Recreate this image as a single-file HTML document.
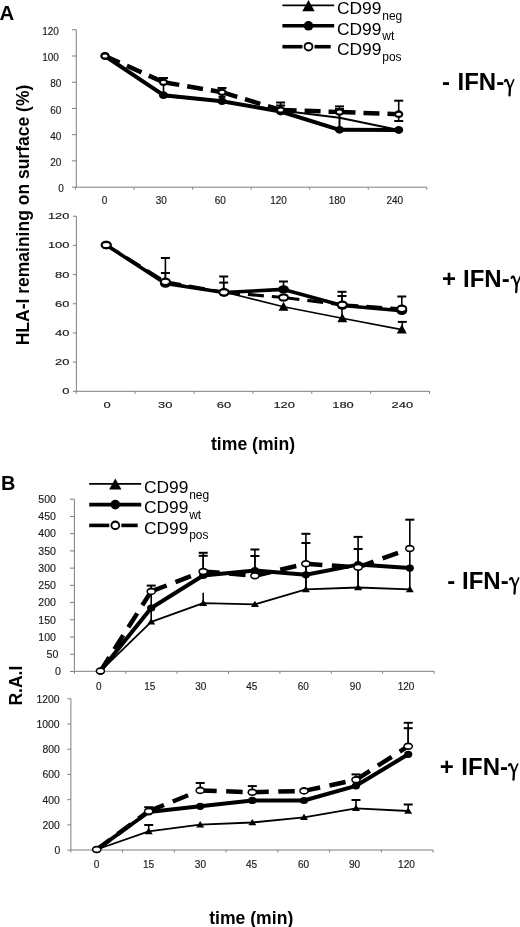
<!DOCTYPE html><html><head><meta charset="utf-8"><style>html,body{margin:0;padding:0;background:#fff;}svg{display:block;font-family:"Liberation Sans", sans-serif;filter:blur(0.35px);}</style></head><body>
<svg width="520" height="927" viewBox="0 0 520 927">
<rect width="520" height="927" fill="#fff"/>
<text transform="translate(-0.4,19.8) scale(1.04,1)" font-size="19.6" text-anchor="start" font-weight="bold" fill="#000" >A</text>
<text transform="translate(0.9,489.5) scale(1.03,1)" font-size="19.4" text-anchor="start" font-weight="bold" fill="#000" >B</text>
<text transform="translate(29.3,345.3) rotate(-90)" font-size="17.5" font-weight="bold" fill="#000">HLA-I remaining on surface (%)</text>
<text transform="translate(21.6,705.6) rotate(-90)" font-size="17.5" font-weight="bold" fill="#000">R.A.I</text>
<text x="211" y="449.7" font-size="17.6" text-anchor="start" font-weight="bold" fill="#000" >time (min)</text>
<text x="209.2" y="923.9" font-size="17.6" text-anchor="start" font-weight="bold" fill="#000" >time (min)</text>
<line x1="76.3" y1="29.78" x2="76.3" y2="187.2" stroke="#7f7f7f" stroke-width="1"/>
<line x1="71.8" y1="187.1" x2="76.3" y2="187.1" stroke="#7f7f7f" stroke-width="1"/>
<text x="63.7" y="192.28" font-size="10" text-anchor="end" font-weight="normal" fill="#1a1a1a" stroke="#1a1a1a" stroke-width="0.15">0</text>
<line x1="71.8" y1="160.88" x2="76.3" y2="160.88" stroke="#7f7f7f" stroke-width="1"/>
<text x="61.3" y="166.06" font-size="10" text-anchor="end" font-weight="normal" fill="#1a1a1a" stroke="#1a1a1a" stroke-width="0.15">20</text>
<line x1="71.8" y1="134.66" x2="76.3" y2="134.66" stroke="#7f7f7f" stroke-width="1"/>
<text x="61.3" y="139.84" font-size="10" text-anchor="end" font-weight="normal" fill="#1a1a1a" stroke="#1a1a1a" stroke-width="0.15">40</text>
<line x1="71.8" y1="108.44" x2="76.3" y2="108.44" stroke="#7f7f7f" stroke-width="1"/>
<text x="61.3" y="113.62" font-size="10" text-anchor="end" font-weight="normal" fill="#1a1a1a" stroke="#1a1a1a" stroke-width="0.15">60</text>
<line x1="71.8" y1="82.22" x2="76.3" y2="82.22" stroke="#7f7f7f" stroke-width="1"/>
<text x="61.3" y="87.4" font-size="10" text-anchor="end" font-weight="normal" fill="#1a1a1a" stroke="#1a1a1a" stroke-width="0.15">80</text>
<line x1="71.8" y1="56" x2="76.3" y2="56" stroke="#7f7f7f" stroke-width="1"/>
<text x="58.9" y="61.18" font-size="10" text-anchor="end" font-weight="normal" fill="#1a1a1a" stroke="#1a1a1a" stroke-width="0.15">100</text>
<line x1="71.8" y1="29.78" x2="76.3" y2="29.78" stroke="#7f7f7f" stroke-width="1"/>
<text x="58.9" y="34.96" font-size="10" text-anchor="end" font-weight="normal" fill="#1a1a1a" stroke="#1a1a1a" stroke-width="0.15">120</text>
<line x1="75.5" y1="187.2" x2="426.8" y2="187.2" stroke="#7f7f7f" stroke-width="1"/>
<line x1="75.5" y1="187.2" x2="75.5" y2="189.7" stroke="#7f7f7f" stroke-width="1"/>
<line x1="134.05" y1="187.2" x2="134.05" y2="189.7" stroke="#7f7f7f" stroke-width="1"/>
<line x1="192.6" y1="187.2" x2="192.6" y2="189.7" stroke="#7f7f7f" stroke-width="1"/>
<line x1="251.15" y1="187.2" x2="251.15" y2="189.7" stroke="#7f7f7f" stroke-width="1"/>
<line x1="309.7" y1="187.2" x2="309.7" y2="189.7" stroke="#7f7f7f" stroke-width="1"/>
<line x1="368.25" y1="187.2" x2="368.25" y2="189.7" stroke="#7f7f7f" stroke-width="1"/>
<line x1="426.8" y1="187.2" x2="426.8" y2="189.7" stroke="#7f7f7f" stroke-width="1"/>
<text x="104.5" y="203.83" font-size="10" text-anchor="middle" font-weight="normal" fill="#1a1a1a" stroke="#1a1a1a" stroke-width="0.15">0</text>
<text x="161.25" y="203.83" font-size="10" text-anchor="middle" font-weight="normal" fill="#1a1a1a" stroke="#1a1a1a" stroke-width="0.15">30</text>
<text x="220.2" y="203.83" font-size="10" text-anchor="middle" font-weight="normal" fill="#1a1a1a" stroke="#1a1a1a" stroke-width="0.15">60</text>
<text x="278.6" y="203.83" font-size="10" text-anchor="middle" font-weight="normal" fill="#1a1a1a" stroke="#1a1a1a" stroke-width="0.15">120</text>
<text x="337" y="203.83" font-size="10" text-anchor="middle" font-weight="normal" fill="#1a1a1a" stroke="#1a1a1a" stroke-width="0.15">180</text>
<text x="394.8" y="203.83" font-size="10" text-anchor="middle" font-weight="normal" fill="#1a1a1a" stroke="#1a1a1a" stroke-width="0.15">240</text>
<line x1="76.4" y1="216.22" x2="76.4" y2="391.3" stroke="#7f7f7f" stroke-width="1"/>
<line x1="72.9" y1="391.3" x2="76.4" y2="391.3" stroke="#7f7f7f" stroke-width="1"/>
<text transform="translate(69.4,394.38) scale(1.5,1)" font-size="8.6" text-anchor="end" font-weight="normal" fill="#1a1a1a" stroke="#1a1a1a" stroke-width="0.15">0</text>
<line x1="72.9" y1="362.12" x2="76.4" y2="362.12" stroke="#7f7f7f" stroke-width="1"/>
<text transform="translate(69.4,365.2) scale(1.5,1)" font-size="8.6" text-anchor="end" font-weight="normal" fill="#1a1a1a" stroke="#1a1a1a" stroke-width="0.15">20</text>
<line x1="72.9" y1="332.94" x2="76.4" y2="332.94" stroke="#7f7f7f" stroke-width="1"/>
<text transform="translate(69.4,336.02) scale(1.5,1)" font-size="8.6" text-anchor="end" font-weight="normal" fill="#1a1a1a" stroke="#1a1a1a" stroke-width="0.15">40</text>
<line x1="72.9" y1="303.76" x2="76.4" y2="303.76" stroke="#7f7f7f" stroke-width="1"/>
<text transform="translate(69.4,306.84) scale(1.5,1)" font-size="8.6" text-anchor="end" font-weight="normal" fill="#1a1a1a" stroke="#1a1a1a" stroke-width="0.15">60</text>
<line x1="72.9" y1="274.58" x2="76.4" y2="274.58" stroke="#7f7f7f" stroke-width="1"/>
<text transform="translate(69.4,277.66) scale(1.5,1)" font-size="8.6" text-anchor="end" font-weight="normal" fill="#1a1a1a" stroke="#1a1a1a" stroke-width="0.15">80</text>
<line x1="72.9" y1="245.4" x2="76.4" y2="245.4" stroke="#7f7f7f" stroke-width="1"/>
<text transform="translate(69.4,248.48) scale(1.5,1)" font-size="8.6" text-anchor="end" font-weight="normal" fill="#1a1a1a" stroke="#1a1a1a" stroke-width="0.15">100</text>
<line x1="72.9" y1="216.22" x2="76.4" y2="216.22" stroke="#7f7f7f" stroke-width="1"/>
<text transform="translate(69.4,219.3) scale(1.5,1)" font-size="8.6" text-anchor="end" font-weight="normal" fill="#1a1a1a" stroke="#1a1a1a" stroke-width="0.15">120</text>
<line x1="76.2" y1="391.3" x2="429.6" y2="391.3" stroke="#7f7f7f" stroke-width="1"/>
<line x1="76.2" y1="391.3" x2="76.2" y2="393.8" stroke="#7f7f7f" stroke-width="1"/>
<line x1="135.1" y1="391.3" x2="135.1" y2="393.8" stroke="#7f7f7f" stroke-width="1"/>
<line x1="194" y1="391.3" x2="194" y2="393.8" stroke="#7f7f7f" stroke-width="1"/>
<line x1="252.9" y1="391.3" x2="252.9" y2="393.8" stroke="#7f7f7f" stroke-width="1"/>
<line x1="311.8" y1="391.3" x2="311.8" y2="393.8" stroke="#7f7f7f" stroke-width="1"/>
<line x1="370.7" y1="391.3" x2="370.7" y2="393.8" stroke="#7f7f7f" stroke-width="1"/>
<line x1="429.6" y1="391.3" x2="429.6" y2="393.8" stroke="#7f7f7f" stroke-width="1"/>
<text transform="translate(107,407.58) scale(1.5,1)" font-size="8.6" text-anchor="middle" font-weight="normal" fill="#1a1a1a" stroke="#1a1a1a" stroke-width="0.15">0</text>
<text transform="translate(165.2,407.58) scale(1.5,1)" font-size="8.6" text-anchor="middle" font-weight="normal" fill="#1a1a1a" stroke="#1a1a1a" stroke-width="0.15">30</text>
<text transform="translate(224,407.58) scale(1.5,1)" font-size="8.6" text-anchor="middle" font-weight="normal" fill="#1a1a1a" stroke="#1a1a1a" stroke-width="0.15">60</text>
<text transform="translate(284.2,407.58) scale(1.5,1)" font-size="8.6" text-anchor="middle" font-weight="normal" fill="#1a1a1a" stroke="#1a1a1a" stroke-width="0.15">120</text>
<text transform="translate(343,407.58) scale(1.5,1)" font-size="8.6" text-anchor="middle" font-weight="normal" fill="#1a1a1a" stroke="#1a1a1a" stroke-width="0.15">180</text>
<text transform="translate(402.3,407.58) scale(1.5,1)" font-size="8.6" text-anchor="middle" font-weight="normal" fill="#1a1a1a" stroke="#1a1a1a" stroke-width="0.15">240</text>
<line x1="74.4" y1="499.2" x2="74.4" y2="671.3" stroke="#7f7f7f" stroke-width="1"/>
<line x1="69.9" y1="671.5" x2="74.4" y2="671.5" stroke="#7f7f7f" stroke-width="1"/>
<text transform="translate(60.8,675.22) scale(1.02,1)" font-size="10.4" text-anchor="end" font-weight="normal" fill="#1a1a1a" stroke="#1a1a1a" stroke-width="0.15">0</text>
<line x1="69.9" y1="654.27" x2="74.4" y2="654.27" stroke="#7f7f7f" stroke-width="1"/>
<text transform="translate(58.4,657.99) scale(1.02,1)" font-size="10.4" text-anchor="end" font-weight="normal" fill="#1a1a1a" stroke="#1a1a1a" stroke-width="0.15">50</text>
<line x1="69.9" y1="637.04" x2="74.4" y2="637.04" stroke="#7f7f7f" stroke-width="1"/>
<text transform="translate(56,640.76) scale(1.02,1)" font-size="10.4" text-anchor="end" font-weight="normal" fill="#1a1a1a" stroke="#1a1a1a" stroke-width="0.15">100</text>
<line x1="69.9" y1="619.81" x2="74.4" y2="619.81" stroke="#7f7f7f" stroke-width="1"/>
<text transform="translate(56,623.53) scale(1.02,1)" font-size="10.4" text-anchor="end" font-weight="normal" fill="#1a1a1a" stroke="#1a1a1a" stroke-width="0.15">150</text>
<line x1="69.9" y1="602.58" x2="74.4" y2="602.58" stroke="#7f7f7f" stroke-width="1"/>
<text transform="translate(56,606.3) scale(1.02,1)" font-size="10.4" text-anchor="end" font-weight="normal" fill="#1a1a1a" stroke="#1a1a1a" stroke-width="0.15">200</text>
<line x1="69.9" y1="585.35" x2="74.4" y2="585.35" stroke="#7f7f7f" stroke-width="1"/>
<text transform="translate(56,589.07) scale(1.02,1)" font-size="10.4" text-anchor="end" font-weight="normal" fill="#1a1a1a" stroke="#1a1a1a" stroke-width="0.15">250</text>
<line x1="69.9" y1="568.12" x2="74.4" y2="568.12" stroke="#7f7f7f" stroke-width="1"/>
<text transform="translate(56,571.84) scale(1.02,1)" font-size="10.4" text-anchor="end" font-weight="normal" fill="#1a1a1a" stroke="#1a1a1a" stroke-width="0.15">300</text>
<line x1="69.9" y1="550.89" x2="74.4" y2="550.89" stroke="#7f7f7f" stroke-width="1"/>
<text transform="translate(56,554.61) scale(1.02,1)" font-size="10.4" text-anchor="end" font-weight="normal" fill="#1a1a1a" stroke="#1a1a1a" stroke-width="0.15">350</text>
<line x1="69.9" y1="533.66" x2="74.4" y2="533.66" stroke="#7f7f7f" stroke-width="1"/>
<text transform="translate(56,537.38) scale(1.02,1)" font-size="10.4" text-anchor="end" font-weight="normal" fill="#1a1a1a" stroke="#1a1a1a" stroke-width="0.15">400</text>
<line x1="69.9" y1="516.43" x2="74.4" y2="516.43" stroke="#7f7f7f" stroke-width="1"/>
<text transform="translate(56,520.15) scale(1.02,1)" font-size="10.4" text-anchor="end" font-weight="normal" fill="#1a1a1a" stroke="#1a1a1a" stroke-width="0.15">450</text>
<line x1="69.9" y1="499.2" x2="74.4" y2="499.2" stroke="#7f7f7f" stroke-width="1"/>
<text transform="translate(56,502.92) scale(1.02,1)" font-size="10.4" text-anchor="end" font-weight="normal" fill="#1a1a1a" stroke="#1a1a1a" stroke-width="0.15">500</text>
<line x1="74.4" y1="671.3" x2="434" y2="671.3" stroke="#7f7f7f" stroke-width="1"/>
<line x1="74.4" y1="671.3" x2="74.4" y2="673.8" stroke="#7f7f7f" stroke-width="1"/>
<line x1="125.77" y1="671.3" x2="125.77" y2="673.8" stroke="#7f7f7f" stroke-width="1"/>
<line x1="177.14" y1="671.3" x2="177.14" y2="673.8" stroke="#7f7f7f" stroke-width="1"/>
<line x1="228.51" y1="671.3" x2="228.51" y2="673.8" stroke="#7f7f7f" stroke-width="1"/>
<line x1="279.89" y1="671.3" x2="279.89" y2="673.8" stroke="#7f7f7f" stroke-width="1"/>
<line x1="331.26" y1="671.3" x2="331.26" y2="673.8" stroke="#7f7f7f" stroke-width="1"/>
<line x1="382.63" y1="671.3" x2="382.63" y2="673.8" stroke="#7f7f7f" stroke-width="1"/>
<line x1="434" y1="671.3" x2="434" y2="673.8" stroke="#7f7f7f" stroke-width="1"/>
<text transform="translate(98.8,690.02) scale(0.99,1)" font-size="10.1" text-anchor="middle" font-weight="normal" fill="#1a1a1a" stroke="#1a1a1a" stroke-width="0.15">0</text>
<text transform="translate(149.8,690.02) scale(0.99,1)" font-size="10.1" text-anchor="middle" font-weight="normal" fill="#1a1a1a" stroke="#1a1a1a" stroke-width="0.15">15</text>
<text transform="translate(200.8,690.02) scale(0.99,1)" font-size="10.1" text-anchor="middle" font-weight="normal" fill="#1a1a1a" stroke="#1a1a1a" stroke-width="0.15">30</text>
<text transform="translate(251.7,690.02) scale(0.99,1)" font-size="10.1" text-anchor="middle" font-weight="normal" fill="#1a1a1a" stroke="#1a1a1a" stroke-width="0.15">45</text>
<text transform="translate(303.3,690.02) scale(0.99,1)" font-size="10.1" text-anchor="middle" font-weight="normal" fill="#1a1a1a" stroke="#1a1a1a" stroke-width="0.15">60</text>
<text transform="translate(355.4,690.02) scale(0.99,1)" font-size="10.1" text-anchor="middle" font-weight="normal" fill="#1a1a1a" stroke="#1a1a1a" stroke-width="0.15">90</text>
<text transform="translate(406.1,690.02) scale(0.99,1)" font-size="10.1" text-anchor="middle" font-weight="normal" fill="#1a1a1a" stroke="#1a1a1a" stroke-width="0.15">120</text>
<line x1="70.9" y1="698.78" x2="70.9" y2="850" stroke="#7f7f7f" stroke-width="1"/>
<line x1="67.3" y1="850.1" x2="70.9" y2="850.1" stroke="#7f7f7f" stroke-width="1"/>
<text transform="translate(60.2,853.95) scale(1.02,1)" font-size="10.2" text-anchor="end" font-weight="normal" fill="#1a1a1a" stroke="#1a1a1a" stroke-width="0.15">0</text>
<line x1="67.3" y1="824.88" x2="70.9" y2="824.88" stroke="#7f7f7f" stroke-width="1"/>
<text transform="translate(59.8,828.73) scale(1.02,1)" font-size="10.2" text-anchor="end" font-weight="normal" fill="#1a1a1a" stroke="#1a1a1a" stroke-width="0.15">200</text>
<line x1="67.3" y1="799.66" x2="70.9" y2="799.66" stroke="#7f7f7f" stroke-width="1"/>
<text transform="translate(59.8,803.51) scale(1.02,1)" font-size="10.2" text-anchor="end" font-weight="normal" fill="#1a1a1a" stroke="#1a1a1a" stroke-width="0.15">400</text>
<line x1="67.3" y1="774.44" x2="70.9" y2="774.44" stroke="#7f7f7f" stroke-width="1"/>
<text transform="translate(59.8,778.29) scale(1.02,1)" font-size="10.2" text-anchor="end" font-weight="normal" fill="#1a1a1a" stroke="#1a1a1a" stroke-width="0.15">600</text>
<line x1="67.3" y1="749.22" x2="70.9" y2="749.22" stroke="#7f7f7f" stroke-width="1"/>
<text transform="translate(59.8,753.07) scale(1.02,1)" font-size="10.2" text-anchor="end" font-weight="normal" fill="#1a1a1a" stroke="#1a1a1a" stroke-width="0.15">800</text>
<line x1="67.3" y1="724" x2="70.9" y2="724" stroke="#7f7f7f" stroke-width="1"/>
<text transform="translate(59.6,727.85) scale(1.02,1)" font-size="10.2" text-anchor="end" font-weight="normal" fill="#1a1a1a" stroke="#1a1a1a" stroke-width="0.15">1000</text>
<line x1="67.3" y1="698.78" x2="70.9" y2="698.78" stroke="#7f7f7f" stroke-width="1"/>
<text transform="translate(59.6,702.63) scale(1.02,1)" font-size="10.2" text-anchor="end" font-weight="normal" fill="#1a1a1a" stroke="#1a1a1a" stroke-width="0.15">1200</text>
<line x1="70.8" y1="850" x2="433.1" y2="850" stroke="#7f7f7f" stroke-width="1"/>
<line x1="70.8" y1="850" x2="70.8" y2="852.5" stroke="#7f7f7f" stroke-width="1"/>
<line x1="122.56" y1="850" x2="122.56" y2="852.5" stroke="#7f7f7f" stroke-width="1"/>
<line x1="174.31" y1="850" x2="174.31" y2="852.5" stroke="#7f7f7f" stroke-width="1"/>
<line x1="226.07" y1="850" x2="226.07" y2="852.5" stroke="#7f7f7f" stroke-width="1"/>
<line x1="277.83" y1="850" x2="277.83" y2="852.5" stroke="#7f7f7f" stroke-width="1"/>
<line x1="329.59" y1="850" x2="329.59" y2="852.5" stroke="#7f7f7f" stroke-width="1"/>
<line x1="381.34" y1="850" x2="381.34" y2="852.5" stroke="#7f7f7f" stroke-width="1"/>
<line x1="433.1" y1="850" x2="433.1" y2="852.5" stroke="#7f7f7f" stroke-width="1"/>
<text x="96.5" y="867.62" font-size="10.1" text-anchor="middle" font-weight="normal" fill="#1a1a1a" stroke="#1a1a1a" stroke-width="0.15">0</text>
<text x="148.5" y="867.62" font-size="10.1" text-anchor="middle" font-weight="normal" fill="#1a1a1a" stroke="#1a1a1a" stroke-width="0.15">15</text>
<text x="200.4" y="867.62" font-size="10.1" text-anchor="middle" font-weight="normal" fill="#1a1a1a" stroke="#1a1a1a" stroke-width="0.15">30</text>
<text x="251.5" y="867.62" font-size="10.1" text-anchor="middle" font-weight="normal" fill="#1a1a1a" stroke="#1a1a1a" stroke-width="0.15">45</text>
<text x="303.5" y="867.62" font-size="10.1" text-anchor="middle" font-weight="normal" fill="#1a1a1a" stroke="#1a1a1a" stroke-width="0.15">60</text>
<text x="354.6" y="867.62" font-size="10.1" text-anchor="middle" font-weight="normal" fill="#1a1a1a" stroke="#1a1a1a" stroke-width="0.15">90</text>
<text x="406.5" y="867.62" font-size="10.1" text-anchor="middle" font-weight="normal" fill="#1a1a1a" stroke="#1a1a1a" stroke-width="0.15">120</text>
<line x1="163.5" y1="78" x2="163.5" y2="82" stroke="#000" stroke-width="1.6"/><line x1="159" y1="78" x2="168" y2="78" stroke="#000" stroke-width="2.0"/>
<line x1="163.5" y1="92" x2="163.5" y2="82" stroke="#000" stroke-width="1.6"/>
<line x1="222" y1="88" x2="222" y2="92" stroke="#000" stroke-width="1.6"/><line x1="217.5" y1="88" x2="226.5" y2="88" stroke="#000" stroke-width="2.0"/>
<line x1="222" y1="96.8" x2="222" y2="92" stroke="#000" stroke-width="1.6"/><line x1="218.5" y1="96.8" x2="225.5" y2="96.8" stroke="#000" stroke-width="2.0"/>
<line x1="280.6" y1="102.5" x2="280.6" y2="110" stroke="#000" stroke-width="1.6"/><line x1="276.1" y1="102.5" x2="285.1" y2="102.5" stroke="#000" stroke-width="2.0"/>
<line x1="280.6" y1="105.5" x2="280.6" y2="110" stroke="#000" stroke-width="1.6"/><line x1="276.1" y1="105.5" x2="285.1" y2="105.5" stroke="#000" stroke-width="2.0"/>
<line x1="339.5" y1="106.4" x2="339.5" y2="130" stroke="#000" stroke-width="1.6"/><line x1="335" y1="106.4" x2="344" y2="106.4" stroke="#000" stroke-width="2.0"/>
<line x1="339.5" y1="109" x2="339.5" y2="130" stroke="#000" stroke-width="1.6"/><line x1="335" y1="109" x2="344" y2="109" stroke="#000" stroke-width="2.0"/>
<line x1="398.7" y1="100.7" x2="398.7" y2="114" stroke="#000" stroke-width="1.6"/><line x1="394.2" y1="100.7" x2="403.2" y2="100.7" stroke="#000" stroke-width="2.0"/>
<line x1="398.7" y1="121" x2="398.7" y2="114" stroke="#000" stroke-width="1.6"/><line x1="394.2" y1="121" x2="403.2" y2="121" stroke="#000" stroke-width="2.0"/>
<polyline points="105,56 163.5,96 222,101.5 280.6,110.5 339.5,117.7 398.7,130" fill="none" stroke="#000" stroke-width="2.0" stroke-linejoin="round"/>
<polyline points="105,56 163.5,95.2 222,101.2 280.6,111.5 339.5,129.8 398.7,130" fill="none" stroke="#000" stroke-width="4.0" stroke-linejoin="round"/>
<line x1="105" y1="56" x2="163.5" y2="82.2" stroke="#000" stroke-width="4.5" stroke-dasharray="16 8"/>
<line x1="163.5" y1="82.2" x2="222" y2="92.2" stroke="#000" stroke-width="4.5" stroke-dasharray="16 8"/>
<line x1="222" y1="92.2" x2="280.6" y2="110" stroke="#000" stroke-width="4.5" stroke-dasharray="16 8"/>
<line x1="280.6" y1="110" x2="339.5" y2="112" stroke="#000" stroke-width="4.5" stroke-dasharray="16 8"/>
<line x1="339.5" y1="112" x2="398.7" y2="114.2" stroke="#000" stroke-width="4.5" stroke-dasharray="16 8"/>
<ellipse cx="105" cy="56" rx="4.5" ry="3.9" fill="#000"/>
<ellipse cx="163.5" cy="95.2" rx="4.5" ry="3.9" fill="#000"/>
<ellipse cx="222" cy="101.2" rx="4.5" ry="3.9" fill="#000"/>
<ellipse cx="280.6" cy="111.5" rx="4.5" ry="3.9" fill="#000"/>
<ellipse cx="339.5" cy="129.8" rx="4.5" ry="3.9" fill="#000"/>
<ellipse cx="398.7" cy="130" rx="4.5" ry="3.9" fill="#000"/>
<ellipse cx="105" cy="56" rx="4.5" ry="3.9" fill="#000"/><ellipse cx="105" cy="56" rx="2.6" ry="1.5" fill="#fff"/>
<ellipse cx="163.5" cy="82.2" rx="4.5" ry="3.9" fill="#000"/><ellipse cx="163.5" cy="82.2" rx="2.6" ry="1.5" fill="#fff"/>
<ellipse cx="222" cy="92.2" rx="4.5" ry="3.9" fill="#000"/><ellipse cx="222" cy="92.2" rx="2.6" ry="1.5" fill="#fff"/>
<ellipse cx="280.6" cy="110" rx="4.5" ry="3.9" fill="#000"/><ellipse cx="280.6" cy="110" rx="2.6" ry="1.5" fill="#fff"/>
<ellipse cx="339.5" cy="112" rx="4.5" ry="3.9" fill="#000"/><ellipse cx="339.5" cy="112" rx="2.6" ry="1.5" fill="#fff"/>
<ellipse cx="398.7" cy="114.2" rx="4.5" ry="3.9" fill="#000"/><ellipse cx="398.7" cy="114.2" rx="2.6" ry="1.5" fill="#fff"/>
<line x1="165.4" y1="258" x2="165.4" y2="282" stroke="#000" stroke-width="1.6"/><line x1="160.9" y1="258" x2="169.9" y2="258" stroke="#000" stroke-width="2.0"/>
<line x1="165.4" y1="273" x2="165.4" y2="282" stroke="#000" stroke-width="1.6"/><line x1="160.9" y1="273" x2="169.9" y2="273" stroke="#000" stroke-width="2.0"/>
<line x1="223.7" y1="276.5" x2="223.7" y2="292" stroke="#000" stroke-width="1.6"/><line x1="219.2" y1="276.5" x2="228.2" y2="276.5" stroke="#000" stroke-width="2.0"/>
<line x1="223.7" y1="282.6" x2="223.7" y2="292" stroke="#000" stroke-width="1.6"/><line x1="219.2" y1="282.6" x2="228.2" y2="282.6" stroke="#000" stroke-width="2.0"/>
<line x1="283.5" y1="281.5" x2="283.5" y2="289" stroke="#000" stroke-width="1.6"/><line x1="279" y1="281.5" x2="288" y2="281.5" stroke="#000" stroke-width="2.0"/>
<line x1="342" y1="291.8" x2="342" y2="318" stroke="#000" stroke-width="1.6"/><line x1="337.5" y1="291.8" x2="346.5" y2="291.8" stroke="#000" stroke-width="2.0"/>
<line x1="342" y1="296" x2="342" y2="305" stroke="#000" stroke-width="1.6"/><line x1="337.5" y1="296" x2="346.5" y2="296" stroke="#000" stroke-width="2.0"/>
<line x1="401.8" y1="296.5" x2="401.8" y2="309" stroke="#000" stroke-width="1.6"/><line x1="397.3" y1="296.5" x2="406.3" y2="296.5" stroke="#000" stroke-width="2.0"/>
<line x1="402.3" y1="321.9" x2="402.3" y2="329" stroke="#000" stroke-width="1.6"/><line x1="397.8" y1="321.9" x2="406.8" y2="321.9" stroke="#000" stroke-width="2.0"/>
<polyline points="106.2,245 165.4,282.5 224,292 283.5,306.7 342.3,318.3 401.8,329.6" fill="none" stroke="#000" stroke-width="1.6" stroke-linejoin="round"/>
<polyline points="106.2,245 165.4,283.5 224,292.5 283.5,289.4 342.3,305.5 401.8,310.8" fill="none" stroke="#000" stroke-width="3.6" stroke-linejoin="round"/>
<line x1="106.2" y1="245" x2="165.4" y2="281.8" stroke="#000" stroke-width="3.2" stroke-dasharray="16 8"/>
<line x1="165.4" y1="281.8" x2="224" y2="292.3" stroke="#000" stroke-width="3.2" stroke-dasharray="16 8"/>
<line x1="224" y1="292.3" x2="283.5" y2="297.5" stroke="#000" stroke-width="3.2" stroke-dasharray="16 8"/>
<line x1="283.5" y1="297.5" x2="342.3" y2="304.8" stroke="#000" stroke-width="3.2" stroke-dasharray="16 8"/>
<line x1="342.3" y1="304.8" x2="401.8" y2="308.8" stroke="#000" stroke-width="3.2" stroke-dasharray="16 8"/>
<path d="M283.5,301.7 L288.5,310.7 L278.5,310.7 Z" fill="#000"/>
<path d="M342.3,313.3 L347.3,322.3 L337.3,322.3 Z" fill="#000"/>
<path d="M401.8,324.6 L406.8,333.6 L396.8,333.6 Z" fill="#000"/>
<ellipse cx="106.2" cy="245" rx="5.5" ry="4.2" fill="#000"/>
<ellipse cx="165.4" cy="283.5" rx="5.5" ry="4.2" fill="#000"/>
<ellipse cx="224" cy="292.5" rx="5.5" ry="4.2" fill="#000"/>
<ellipse cx="283.5" cy="289.4" rx="5.5" ry="4.2" fill="#000"/>
<ellipse cx="342.3" cy="305.5" rx="5.5" ry="4.2" fill="#000"/>
<ellipse cx="401.8" cy="310.8" rx="5.5" ry="4.2" fill="#000"/>
<ellipse cx="106.2" cy="245" rx="5.5" ry="4.2" fill="#000"/><ellipse cx="106.2" cy="245" rx="3.5" ry="2.1" fill="#fff"/>
<ellipse cx="165.4" cy="281.8" rx="5.5" ry="4.2" fill="#000"/><ellipse cx="165.4" cy="281.8" rx="3.5" ry="2.1" fill="#fff"/>
<ellipse cx="224" cy="292.3" rx="5.5" ry="4.2" fill="#000"/><ellipse cx="224" cy="292.3" rx="3.5" ry="2.1" fill="#fff"/>
<ellipse cx="283.5" cy="297.5" rx="5.5" ry="4.2" fill="#000"/><ellipse cx="283.5" cy="297.5" rx="3.5" ry="2.1" fill="#fff"/>
<ellipse cx="342.3" cy="304.8" rx="5.5" ry="4.2" fill="#000"/><ellipse cx="342.3" cy="304.8" rx="3.5" ry="2.1" fill="#fff"/>
<ellipse cx="401.8" cy="308.8" rx="5.5" ry="4.2" fill="#000"/><ellipse cx="401.8" cy="308.8" rx="3.5" ry="2.1" fill="#fff"/>
<line x1="151.2" y1="585.6" x2="151.2" y2="621" stroke="#000" stroke-width="1.6"/><line x1="146.7" y1="585.6" x2="155.7" y2="585.6" stroke="#000" stroke-width="2.0"/>
<line x1="203.2" y1="552.8" x2="203.2" y2="572" stroke="#000" stroke-width="1.6"/><line x1="198.7" y1="552.8" x2="207.7" y2="552.8" stroke="#000" stroke-width="2.0"/>
<line x1="203.2" y1="555.8" x2="203.2" y2="572" stroke="#000" stroke-width="1.6"/><line x1="198.7" y1="555.8" x2="207.7" y2="555.8" stroke="#000" stroke-width="2.0"/>
<line x1="203.2" y1="592.7" x2="203.2" y2="603" stroke="#000" stroke-width="1.6"/>
<line x1="254.9" y1="549.5" x2="254.9" y2="571" stroke="#000" stroke-width="1.6"/><line x1="250.4" y1="549.5" x2="259.4" y2="549.5" stroke="#000" stroke-width="2.0"/>
<line x1="254.9" y1="556" x2="254.9" y2="571" stroke="#000" stroke-width="1.6"/><line x1="250.4" y1="556" x2="259.4" y2="556" stroke="#000" stroke-width="2.0"/>
<line x1="305.9" y1="533.8" x2="305.9" y2="589" stroke="#000" stroke-width="1.6"/><line x1="301.4" y1="533.8" x2="310.4" y2="533.8" stroke="#000" stroke-width="2.0"/>
<line x1="305.9" y1="543" x2="305.9" y2="589" stroke="#000" stroke-width="1.6"/><line x1="301.4" y1="543" x2="310.4" y2="543" stroke="#000" stroke-width="2.0"/>
<line x1="358.1" y1="536.9" x2="358.1" y2="587" stroke="#000" stroke-width="1.6"/><line x1="353.6" y1="536.9" x2="362.6" y2="536.9" stroke="#000" stroke-width="2.0"/>
<line x1="358.1" y1="549" x2="358.1" y2="587" stroke="#000" stroke-width="1.6"/><line x1="353.6" y1="549" x2="362.6" y2="549" stroke="#000" stroke-width="2.0"/>
<line x1="409.8" y1="519.7" x2="409.8" y2="589" stroke="#000" stroke-width="1.6"/><line x1="405.3" y1="519.7" x2="414.3" y2="519.7" stroke="#000" stroke-width="2.0"/>
<polyline points="100.4,671.1 151.2,621.8 203.2,603.2 254.9,604.3 305.9,589.4 358.1,587.5 409.8,589.4" fill="none" stroke="#000" stroke-width="1.8" stroke-linejoin="round"/>
<polyline points="100.4,671.1 151.2,608 203.2,575.5 254.9,570.6 305.9,574.8 358.1,564.6 409.8,568.1" fill="none" stroke="#000" stroke-width="4.0" stroke-linejoin="round"/>
<line x1="100.4" y1="671.1" x2="151.2" y2="591.4" stroke="#000" stroke-width="4.5" stroke-dasharray="16.5 9.5"/>
<line x1="151.2" y1="591.4" x2="203.2" y2="571.5" stroke="#000" stroke-width="4.5" stroke-dasharray="16.5 9.5"/>
<line x1="203.2" y1="571.5" x2="254.9" y2="575.7" stroke="#000" stroke-width="4.5" stroke-dasharray="16.5 9.5"/>
<line x1="254.9" y1="575.7" x2="305.9" y2="563.8" stroke="#000" stroke-width="4.5" stroke-dasharray="16.5 9.5"/>
<line x1="305.9" y1="563.8" x2="358.1" y2="567.3" stroke="#000" stroke-width="4.5" stroke-dasharray="16.5 9.5"/>
<line x1="358.1" y1="567.3" x2="409.8" y2="548.5" stroke="#000" stroke-width="4.5" stroke-dasharray="16.5 9.5"/>
<path d="M151.2,618.2 L155.2,624.6 L147.2,624.6 Z" fill="#000"/>
<path d="M203.2,599.6 L207.2,606 L199.2,606 Z" fill="#000"/>
<path d="M254.9,600.7 L258.9,607.1 L250.9,607.1 Z" fill="#000"/>
<path d="M305.9,585.8 L309.9,592.2 L301.9,592.2 Z" fill="#000"/>
<path d="M358.1,583.9 L362.1,590.3 L354.1,590.3 Z" fill="#000"/>
<path d="M409.8,585.8 L413.8,592.2 L405.8,592.2 Z" fill="#000"/>
<ellipse cx="100.4" cy="671.1" rx="4.1" ry="3.6" fill="#000"/>
<ellipse cx="151.2" cy="608" rx="4.1" ry="3.6" fill="#000"/>
<ellipse cx="203.2" cy="575.5" rx="4.1" ry="3.6" fill="#000"/>
<ellipse cx="254.9" cy="570.6" rx="4.1" ry="3.6" fill="#000"/>
<ellipse cx="305.9" cy="574.8" rx="4.1" ry="3.6" fill="#000"/>
<ellipse cx="358.1" cy="564.6" rx="4.1" ry="3.6" fill="#000"/>
<ellipse cx="409.8" cy="568.1" rx="4.1" ry="3.6" fill="#000"/>
<ellipse cx="100.4" cy="671.1" rx="4.8" ry="3.8" fill="#000"/><ellipse cx="100.4" cy="671.1" rx="3.3" ry="2" fill="#fff"/>
<ellipse cx="151.2" cy="591.4" rx="4.8" ry="3.8" fill="#000"/><ellipse cx="151.2" cy="591.4" rx="3.3" ry="2" fill="#fff"/>
<ellipse cx="203.2" cy="571.5" rx="4.8" ry="3.8" fill="#000"/><ellipse cx="203.2" cy="571.5" rx="3.3" ry="2" fill="#fff"/>
<ellipse cx="254.9" cy="575.7" rx="4.8" ry="3.8" fill="#000"/><ellipse cx="254.9" cy="575.7" rx="3.3" ry="2" fill="#fff"/>
<ellipse cx="305.9" cy="563.8" rx="4.8" ry="3.8" fill="#000"/><ellipse cx="305.9" cy="563.8" rx="3.3" ry="2" fill="#fff"/>
<ellipse cx="358.1" cy="567.3" rx="4.8" ry="3.8" fill="#000"/><ellipse cx="358.1" cy="567.3" rx="3.3" ry="2" fill="#fff"/>
<ellipse cx="409.8" cy="548.5" rx="4.8" ry="3.8" fill="#000"/><ellipse cx="409.8" cy="548.5" rx="3.3" ry="2" fill="#fff"/>
<line x1="148.7" y1="807.2" x2="148.7" y2="811" stroke="#000" stroke-width="1.6"/><line x1="144.2" y1="807.2" x2="153.2" y2="807.2" stroke="#000" stroke-width="2.0"/>
<line x1="148.7" y1="825" x2="148.7" y2="831" stroke="#000" stroke-width="1.6"/><line x1="144.2" y1="825" x2="153.2" y2="825" stroke="#000" stroke-width="2.0"/>
<line x1="200.2" y1="783" x2="200.2" y2="790" stroke="#000" stroke-width="1.6"/><line x1="195.7" y1="783" x2="204.7" y2="783" stroke="#000" stroke-width="2.0"/>
<line x1="252.3" y1="786.1" x2="252.3" y2="792" stroke="#000" stroke-width="1.6"/><line x1="247.8" y1="786.1" x2="256.8" y2="786.1" stroke="#000" stroke-width="2.0"/>
<line x1="356" y1="774.4" x2="356" y2="780" stroke="#000" stroke-width="1.6"/><line x1="351.5" y1="774.4" x2="360.5" y2="774.4" stroke="#000" stroke-width="2.0"/>
<line x1="356" y1="800" x2="356" y2="808" stroke="#000" stroke-width="1.6"/><line x1="351.5" y1="800" x2="360.5" y2="800" stroke="#000" stroke-width="2.0"/>
<line x1="408.2" y1="722.8" x2="408.2" y2="746" stroke="#000" stroke-width="1.6"/><line x1="403.7" y1="722.8" x2="412.7" y2="722.8" stroke="#000" stroke-width="2.0"/>
<line x1="408.2" y1="728.2" x2="408.2" y2="746" stroke="#000" stroke-width="1.6"/><line x1="403.7" y1="728.2" x2="412.7" y2="728.2" stroke="#000" stroke-width="2.0"/>
<line x1="408.2" y1="804.5" x2="408.2" y2="811" stroke="#000" stroke-width="1.6"/><line x1="403.7" y1="804.5" x2="412.7" y2="804.5" stroke="#000" stroke-width="2.0"/>
<polyline points="96.7,849.5 148.7,831.4 200.2,824.6 252.3,822.5 304,817.3 356,808.3 408.2,811" fill="none" stroke="#000" stroke-width="1.8" stroke-linejoin="round"/>
<polyline points="96.7,849.5 148.7,812 200.2,806.3 252.3,800.4 304,800.5 356,785.8 408.2,754.3" fill="none" stroke="#000" stroke-width="4.0" stroke-linejoin="round"/>
<line x1="96.7" y1="849.5" x2="148.7" y2="811.2" stroke="#000" stroke-width="4.5" stroke-dasharray="16.5 9.5"/>
<line x1="148.7" y1="811.2" x2="200.2" y2="790.4" stroke="#000" stroke-width="4.5" stroke-dasharray="16.5 9.5"/>
<line x1="200.2" y1="790.4" x2="252.3" y2="792.3" stroke="#000" stroke-width="4.5" stroke-dasharray="16.5 9.5"/>
<line x1="252.3" y1="792.3" x2="304" y2="790.9" stroke="#000" stroke-width="4.5" stroke-dasharray="16.5 9.5"/>
<line x1="304" y1="790.9" x2="356" y2="779.8" stroke="#000" stroke-width="4.5" stroke-dasharray="16.5 9.5"/>
<line x1="356" y1="779.8" x2="408.2" y2="746.2" stroke="#000" stroke-width="4.5" stroke-dasharray="16.5 9.5"/>
<path d="M148.7,827.8 L152.7,834.2 L144.7,834.2 Z" fill="#000"/>
<path d="M200.2,821 L204.2,827.4 L196.2,827.4 Z" fill="#000"/>
<path d="M252.3,818.9 L256.3,825.3 L248.3,825.3 Z" fill="#000"/>
<path d="M304,813.7 L308,820.1 L300,820.1 Z" fill="#000"/>
<path d="M356,804.7 L360,811.1 L352,811.1 Z" fill="#000"/>
<path d="M408.2,807.4 L412.2,813.8 L404.2,813.8 Z" fill="#000"/>
<ellipse cx="96.7" cy="849.5" rx="4.1" ry="3.6" fill="#000"/>
<ellipse cx="148.7" cy="812" rx="4.1" ry="3.6" fill="#000"/>
<ellipse cx="200.2" cy="806.3" rx="4.1" ry="3.6" fill="#000"/>
<ellipse cx="252.3" cy="800.4" rx="4.1" ry="3.6" fill="#000"/>
<ellipse cx="304" cy="800.5" rx="4.1" ry="3.6" fill="#000"/>
<ellipse cx="356" cy="785.8" rx="4.1" ry="3.6" fill="#000"/>
<ellipse cx="408.2" cy="754.3" rx="4.1" ry="3.6" fill="#000"/>
<ellipse cx="96.7" cy="849.5" rx="4.8" ry="3.8" fill="#000"/><ellipse cx="96.7" cy="849.5" rx="3.3" ry="2" fill="#fff"/>
<ellipse cx="148.7" cy="811.2" rx="4.8" ry="3.8" fill="#000"/><ellipse cx="148.7" cy="811.2" rx="3.3" ry="2" fill="#fff"/>
<ellipse cx="200.2" cy="790.4" rx="4.8" ry="3.8" fill="#000"/><ellipse cx="200.2" cy="790.4" rx="3.3" ry="2" fill="#fff"/>
<ellipse cx="252.3" cy="792.3" rx="4.8" ry="3.8" fill="#000"/><ellipse cx="252.3" cy="792.3" rx="3.3" ry="2" fill="#fff"/>
<ellipse cx="304" cy="790.9" rx="4.8" ry="3.8" fill="#000"/><ellipse cx="304" cy="790.9" rx="3.3" ry="2" fill="#fff"/>
<ellipse cx="356" cy="779.8" rx="4.8" ry="3.8" fill="#000"/><ellipse cx="356" cy="779.8" rx="3.3" ry="2" fill="#fff"/>
<ellipse cx="408.2" cy="746.2" rx="4.8" ry="3.8" fill="#000"/><ellipse cx="408.2" cy="746.2" rx="3.3" ry="2" fill="#fff"/>
<line x1="282.4" y1="5.4" x2="334.2" y2="5.4" stroke="#000" stroke-width="1.8"/>
<path d="M308.5,0 L314.7,11.16 L302.3,11.16 Z" fill="#000"/>
<line x1="282.4" y1="25.8" x2="334.2" y2="25.8" stroke="#000" stroke-width="3.6"/>
<ellipse cx="308.5" cy="25.8" rx="4.8" ry="4.8" fill="#000"/>
<line x1="282.4" y1="46.7" x2="302.5" y2="46.7" stroke="#000" stroke-width="3.6"/>
<line x1="314.5" y1="46.7" x2="330.7" y2="46.7" stroke="#000" stroke-width="3.6"/>
<ellipse cx="308.5" cy="46.7" rx="4.8" ry="4.8" fill="#000"/><ellipse cx="308.5" cy="46.7" rx="3" ry="2.7" fill="#fff"/>
<text x="337" y="13.8" font-size="17.4" fill="#000">CD99<tspan font-size="12" dx="0.8" dy="5.8">neg</tspan></text>
<text x="337" y="34.6" font-size="17.4" fill="#000">CD99<tspan font-size="12" dx="0.8" dy="5.8">wt</tspan></text>
<text x="337" y="55.4" font-size="17.4" fill="#000">CD99<tspan font-size="12" dx="0.8" dy="5.8">pos</tspan></text>
<line x1="89.2" y1="483.8" x2="141.2" y2="483.8" stroke="#000" stroke-width="1.8"/>
<path d="M115.3,478.4 L121.5,489.56 L109.1,489.56 Z" fill="#000"/>
<line x1="89.2" y1="504.6" x2="141.2" y2="504.6" stroke="#000" stroke-width="3.6"/>
<ellipse cx="115.3" cy="504.6" rx="4.8" ry="4.8" fill="#000"/>
<line x1="89.2" y1="525.4" x2="109.3" y2="525.4" stroke="#000" stroke-width="3.6"/>
<line x1="121.3" y1="525.4" x2="137.7" y2="525.4" stroke="#000" stroke-width="3.6"/>
<ellipse cx="115.3" cy="525.4" rx="4.8" ry="4.8" fill="#000"/><ellipse cx="115.3" cy="525.4" rx="3" ry="2.7" fill="#fff"/>
<text x="143.9" y="492.7" font-size="17.4" fill="#000">CD99<tspan font-size="12" dx="0.8" dy="5.8">neg</tspan></text>
<text x="143.9" y="513.2" font-size="17.4" fill="#000">CD99<tspan font-size="12" dx="0.8" dy="5.8">wt</tspan></text>
<text x="143.9" y="533.6" font-size="17.4" fill="#000">CD99<tspan font-size="12" dx="0.8" dy="5.8">pos</tspan></text>
<text x="442" y="90.4" font-size="24" font-weight="bold" fill="#000">-</text>
<text x="457.5" y="90.4" font-size="24" font-weight="bold" fill="#000">IFN-</text>
<g fill="none" stroke="#000" stroke-linecap="round"><path d="M504.9,81.4 Q505.5,79.1 507,80.1 L509.9,88.2" stroke-width="2.0"/><path d="M513.7,79.8 L510.1,88.2" stroke-width="1.6"/><path d="M510,87.6 L509.5,95.4" stroke-width="2.3"/></g>
<text x="442" y="287" font-size="24" font-weight="bold" fill="#000">+</text>
<text x="463" y="287" font-size="24" font-weight="bold" fill="#000">IFN-</text>
<g fill="none" stroke="#000" stroke-linecap="round"><path d="M511.6,278 Q512.2,275.7 513.7,276.7 L516.6,284.8" stroke-width="2.0"/><path d="M520.4,276.4 L516.8,284.8" stroke-width="1.6"/><path d="M516.7,284.2 L516.2,292" stroke-width="2.3"/></g>
<text x="447.3" y="588.5" font-size="24" font-weight="bold" fill="#000">-</text>
<text x="462" y="588.5" font-size="24" font-weight="bold" fill="#000">IFN-</text>
<g fill="none" stroke="#000" stroke-linecap="round"><path d="M509.9,579.5 Q510.5,577.2 512,578.2 L514.9,586.3" stroke-width="2.0"/><path d="M518.7,577.9 L515.1,586.3" stroke-width="1.6"/><path d="M515,585.7 L514.5,593.5" stroke-width="2.3"/></g>
<text x="439.7" y="774.6" font-size="24" font-weight="bold" fill="#000">+</text>
<text x="461.3" y="774.6" font-size="24" font-weight="bold" fill="#000">IFN-</text>
<g fill="none" stroke="#000" stroke-linecap="round"><path d="M508.9,765.6 Q509.5,763.3 511,764.3 L513.9,772.4" stroke-width="2.0"/><path d="M517.7,764 L514.1,772.4" stroke-width="1.6"/><path d="M514,771.8 L513.5,779.6" stroke-width="2.3"/></g>
</svg></body></html>
